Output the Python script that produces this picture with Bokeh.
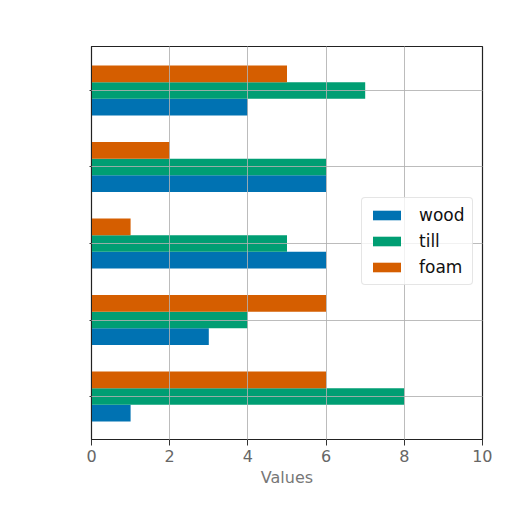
from bokeh.plotting import figure
from bokeh.models import ColumnDataSource, Range1d, FixedTicker, Legend, LegendItem
from bokeh.transform import dodge
from bokeh.embed import file_html
from bokeh.resources import INLINE

groups = [0, 1, 2, 3, 4]
wood = [1, 3, 6, 6, 4]
till = [8, 4, 5, 6, 7]
foam = [6, 6, 1, 2, 5]
series_names = ["wood", "till", "foam"]
x_ticks = [0, 2, 4, 6, 8, 10]

colors = {"wood": "#0072B2", "till": "#009E73", "foam": "#D55E00"}
bar_h = 0.218
offsets = {"wood": -bar_h, "till": 0.0, "foam": bar_h}

src = ColumnDataSource(dict(y=groups, wood=wood, till=till, foam=foam))

p = figure(frame_width=391, frame_height=393,
           x_range=Range1d(0, 10), y_range=Range1d(-0.562, 4.575),
           output_backend="svg", toolbar_location=None,
           min_border_left=91, min_border_top=46, min_border_right=10,
           min_border_bottom=62)

renderers = {}
for name in series_names:
    renderers[name] = p.hbar(y=dodge("y", offsets[name], range=p.y_range),
                             right=name, left=0, height=bar_h, source=src,
                             fill_color=colors[name], line_color=None)

p.outline_line_color = "#222222"
p.outline_line_width = 1.2

# axes
p.xaxis.ticker = FixedTicker(ticks=x_ticks)
p.xaxis.axis_label = "Values"
p.xaxis.axis_label_text_font = "DejaVu Sans"
p.xaxis.axis_label_text_font_size = "16px"
p.xaxis.axis_label_text_font_style = "normal"
p.xaxis.axis_label_text_color = "#777777"
p.xaxis.axis_label_standoff = 3
p.xaxis.major_label_text_font = "DejaVu Sans"
p.xaxis.major_label_text_font_size = "16px"
p.xaxis.major_label_text_color = "#666666"
p.xaxis.major_label_standoff = 4

p.yaxis.ticker = FixedTicker(ticks=groups)
p.yaxis.major_label_overrides = {g: "" for g in groups}

for ax in (p.xaxis, p.yaxis):
    ax.major_tick_in = 0
    ax.minor_tick_line_color = None
    ax.major_tick_line_color = "#333333"
    ax.axis_line_color = "#222222"
p.xaxis.major_tick_out = 6
p.yaxis.major_tick_out = 2

# grid over bars
p.xgrid.ticker = FixedTicker(ticks=x_ticks)
p.ygrid.ticker = FixedTicker(ticks=groups)
for g in (p.xgrid, p.ygrid):
    g.grid_line_color = "#b0b0b0"
    g.grid_line_alpha = 0.85
    g.grid_line_width = 1
    g.level = "guide"

legend = Legend(items=[LegendItem(label=n, renderers=[renderers[n]]) for n in series_names],
                location=(270, 154))
legend.label_text_font = "DejaVu Sans"
legend.label_text_font_size = "17px"
legend.label_text_color = "#111111"
legend.glyph_width = 35
legend.glyph_height = 12
legend.label_height = 20
legend.label_standoff = 15
legend.padding = 7
legend.spacing = 6
legend.margin = 0
legend.border_line_color = "#cccccc"
legend.border_line_width = 1
legend.border_radius = 4
legend.background_fill_alpha = 0.8
p.add_layout(legend)

open("out.html", "w").write(file_html(p, INLINE))
